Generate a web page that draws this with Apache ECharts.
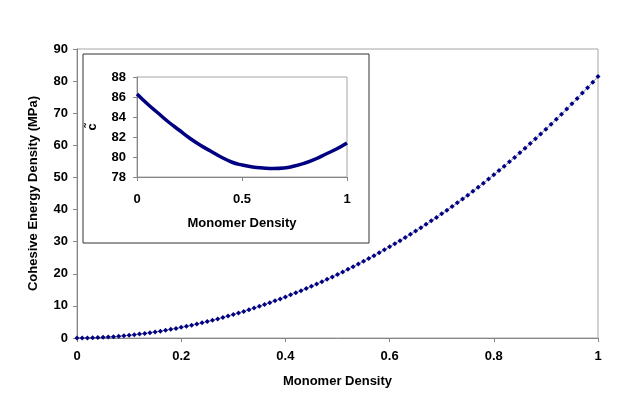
<!DOCTYPE html>
<html>
<head>
<meta charset="utf-8">
<script src="https://cdn.jsdelivr.net/npm/echarts@6/dist/echarts.min.js"></script>
<style>
  html, body { margin: 0; padding: 0; background: #fff; }
  #chart { width: 635px; height: 393px; }
</style>
</head>
<body>
<div id="chart"></div>
<script>
// main curve: monomer density 0..1 step 0.01
const densityMain = [];
for (let i = 0; i <= 100; i++) densityMain.push(i / 100);
const cedValues = [
  0, 0.01, 0.03, 0.08, 0.14, 0.21, 0.31, 0.42, 0.54, 0.69,
  0.84, 1.02, 1.21, 1.42, 1.64, 1.88, 2.13, 2.40, 2.69, 2.99,
  3.31, 3.64, 3.99, 4.35, 4.73, 5.12, 5.53, 5.95, 6.39, 6.84,
  7.31, 7.79, 8.29, 8.81, 9.33, 9.87, 10.43, 11.00, 11.59, 12.18,
  12.80, 13.43, 14.08, 14.74, 15.41, 16.10, 16.81, 17.54, 18.27, 19.03,
  19.80, 20.59, 21.39, 22.21, 23.04, 23.90, 24.76, 25.65, 26.54, 27.47,
  28.40, 29.36, 30.31, 31.30, 32.30, 33.31, 34.35, 35.40, 36.48, 37.56,
  38.66, 39.80, 40.95, 42.10, 43.29, 44.49, 45.72, 46.96, 48.22, 49.52,
  50.82, 52.16, 53.49, 54.87, 56.24, 57.66, 59.09, 60.55, 62.03, 63.53,
  65.04, 66.58, 68.14, 69.71, 71.31, 72.92, 74.56, 76.26, 77.94, 79.68,
  81.40
];

// inset curve: c~ vs monomer density
const densityInset = [0, 0.05, 0.1, 0.15, 0.2, 0.25, 0.3, 0.35, 0.4, 0.45, 0.5,
  0.55, 0.6, 0.65, 0.7, 0.75, 0.8, 0.85, 0.9, 0.95, 1];
const cTilde = [86.3, 85.3, 84.4, 83.5, 82.7, 81.9, 81.2, 80.6, 80.0, 79.5, 79.2,
  79.0, 78.9, 78.85, 78.9, 79.1, 79.4, 79.8, 80.3, 80.8, 81.4];

const font = 'Liberation Sans, Arial, sans-serif';
const axisGray = '#868686';
const navy = '#000080';

const lbl = { color: '#000', fontFamily: font, fontWeight: 'bold', fontSize: 13 };

const chart = echarts.init(document.getElementById('chart'));
chart.setOption({
  animation: false,
  backgroundColor: '#fff',
  graphic: [{
    type: 'rect',
    z: -10,
    shape: { x: 83, y: 54, width: 286, height: 189 },
    style: { fill: '#fff', stroke: '#333', lineWidth: 1 }
  }],
  grid: [
    { left: 77, right: 37, top: 49, bottom: 53, show: true, borderColor: '#a6a6a6', borderWidth: 1 },
    { left: 137, right: 288, top: 77, bottom: 216, show: true, borderColor: '#a6a6a6', borderWidth: 1 }
  ],
  xAxis: [
    {
      gridIndex: 0, type: 'value', min: 0, max: 1, interval: 0.2,
      name: 'Monomer Density', nameLocation: 'middle', nameGap: 37,
      nameTextStyle: lbl,
      axisLine: { lineStyle: { color: axisGray } },
      axisTick: { length: 4, lineStyle: { color: axisGray } },
      axisLabel: Object.assign({ margin: 12 }, lbl),
      splitLine: { show: false }
    },
    {
      gridIndex: 1, type: 'value', min: 0, max: 1, interval: 0.5,
      name: 'Monomer Density', nameLocation: 'middle', nameGap: 40,
      nameTextStyle: lbl,
      axisLine: { lineStyle: { color: axisGray } },
      axisTick: { length: 4, lineStyle: { color: axisGray } },
      axisLabel: Object.assign({ margin: 16 }, lbl),
      splitLine: { show: false }
    }
  ],
  yAxis: [
    {
      gridIndex: 0, type: 'value', min: 0, max: 90, interval: 10,
      name: 'Cohesive Energy Density (MPa)', nameLocation: 'middle', nameGap: 37,
      nameTextStyle: lbl,
      axisLine: { show: true, lineStyle: { color: axisGray } },
      axisTick: { show: true, length: 4, lineStyle: { color: axisGray } },
      axisLabel: Object.assign({ margin: 9 }, lbl),
      splitLine: { show: false }
    },
    {
      gridIndex: 1, type: 'value', min: 78, max: 88, interval: 2,
      name: 'c\u0303', nameLocation: 'middle', nameGap: 38,
      nameTextStyle: lbl,
      axisLine: { show: true, lineStyle: { color: axisGray } },
      axisTick: { show: true, length: 4, lineStyle: { color: axisGray } },
      axisLabel: Object.assign({ margin: 11 }, lbl),
      splitLine: { show: false }
    }
  ],
  series: [
    {
      type: 'line', xAxisIndex: 0, yAxisIndex: 0,
      data: densityMain.map((x, i) => [x, cedValues[i]]),
      symbol: 'diamond', symbolSize: 5, showAllSymbol: true,
      itemStyle: { color: navy },
      lineStyle: { color: '#7f7fbf', width: 1 }
    },
    {
      type: 'line', xAxisIndex: 1, yAxisIndex: 1,
      data: densityInset.map((x, i) => [x, cTilde[i]]),
      smooth: true, showSymbol: false, z: 5,
      lineStyle: { color: navy, width: 3.5 }
    }
  ]
});
</script>
</body>
</html>
